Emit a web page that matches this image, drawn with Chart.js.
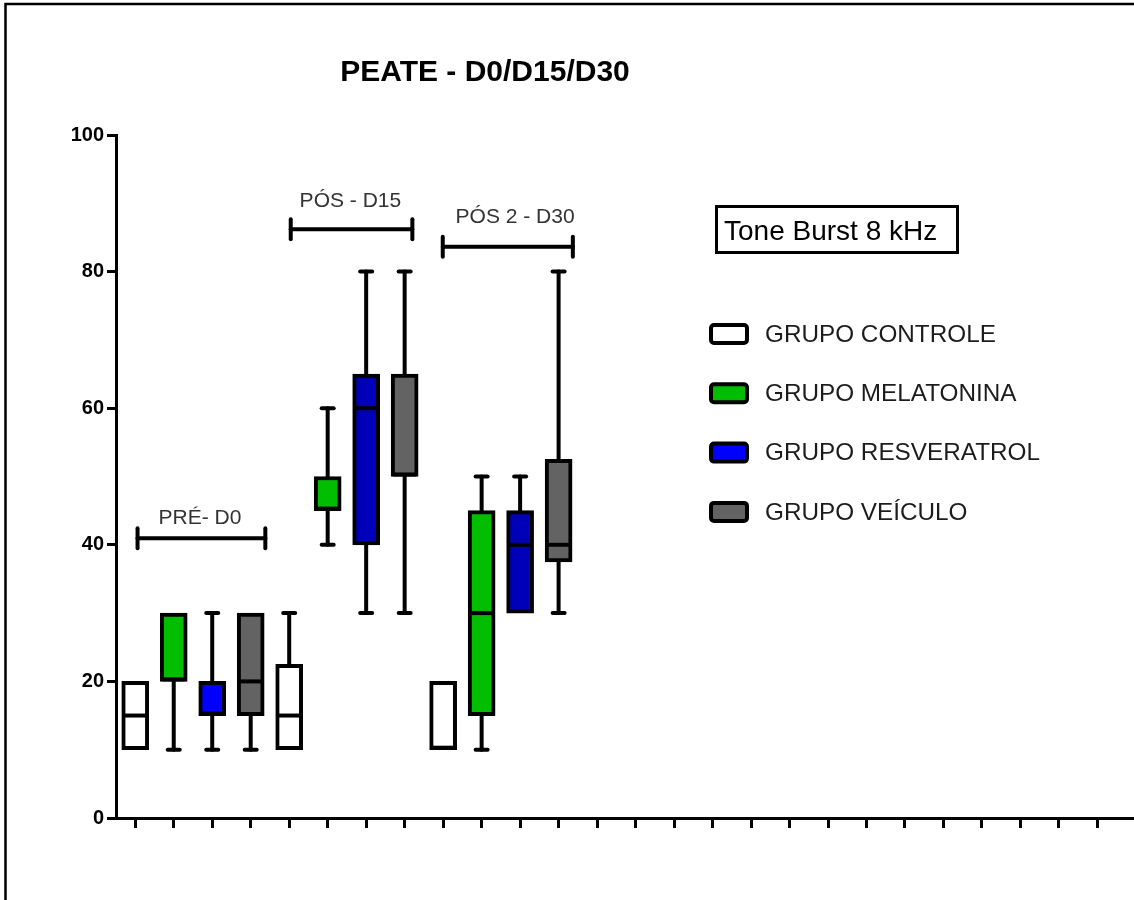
<!DOCTYPE html>
<html lang="pt">
<head>
<meta charset="utf-8">
<title>PEATE - D0/D15/D30</title>
<script src="https://cdn.jsdelivr.net/npm/chart.js@4.4.1/dist/chart.umd.min.js"></script>
<style>
  html, body { margin: 0; padding: 0; background: #fff; }
  #wrap { position: relative; width: 1134px; height: 900px; }
</style>
</head>
<body>
<div id="wrap"><canvas id="peateChart" width="1134" height="900"></canvas></div>
<script>
// Períodos e grupos experimentais
const periodos = ['PRÉ- D0', 'PÓS - D15', 'PÓS 2 - D30'];
const grupos = ['GRUPO CONTROLE', 'GRUPO MELATONINA', 'GRUPO RESVERATROL', 'GRUPO VEÍCULO'];

// [mínimo, Q1, mediana, Q3, máximo] para D0, D15 e D30
const controle    = [[10, 10, 15, 20, 20], [10, 10, 15, 22.5, 30], [10, 10, 10, 20, 20]];
const melatonina  = [[10, 20, 20, 30, 30], [40, 45, 45, 50, 60], [10, 15, 30, 45, 50]];
const resveratrol = [[10, 15, 15, 20, 30], [30, 40, 60, 65, 80], [30, 30, 40, 45, 50]];
const veiculo     = [[10, 15, 20, 30, 30], [30, 50, 50, 65, 80], [30, 37.5, 40, 52.5, 80]];

const yTicks = [0, 20, 40, 60, 80, 100];
const xTicks = Array.from({ length: 26 }, (_, i) => i + 1);

// Cores das caixas (o azul do D0 é mais claro)
const cores = [
  ['#ffffff', '#ffffff', '#ffffff'],
  ['#00bd00', '#00bd00', '#00bd00'],
  ['#0000ff', '#0000b8', '#0000b8'],
  ['#636363', '#636363', '#636363']
];
const coresLegenda = ['#ffffff', '#00bd00', '#0000ff', '#636363'];

// Chaves sobre cada período (coordenadas nos eixos)
const chaves = [
  { x0: 1.06, x1: 4.38, y: 40.95, xTexto: 2.68, yTexto: 43.0 },
  { x0: 5.04, x1: 8.20, y: 86.2, xTexto: 6.59, yTexto: 89.5 },
  { x0: 8.99, x1: 12.37, y: 83.65, xTexto: 10.87, yTexto: 87.1 }
];

const FONTE = '"Liberation Sans", Arial, sans-serif';
const estatisticas = [controle, melatonina, resveratrol, veiculo];

// um dataset por grupo, caixa flutuante de Q1 a Q3
const datasets = grupos.map((nome, g) => ({
  label: nome,
  stats: estatisticas[g],
  data: estatisticas[g].map((s, p) => ({ x: p * 4 + g + 1, y: [s[1], s[3]] })),
  backgroundColor: cores[g],
  borderColor: '#000',
  borderWidth: 4,
  borderSkipped: false,
  barThickness: 27,
  grouped: false
}));

function linha(ctx, x0, y0, x1, y1) {
  ctx.beginPath();
  ctx.moveTo(x0, y0);
  ctx.lineTo(x1, y1);
  ctx.stroke();
}

const boxplotPlugin = {
  id: 'boxplot',
  beforeDraw(chart) {
    const ctx = chart.ctx;
    ctx.save();
    ctx.fillStyle = '#fff';
    ctx.fillRect(0, 0, chart.width, chart.height);
    // moldura esquerda e superior
    ctx.strokeStyle = '#000';
    ctx.lineWidth = 2.5;
    ctx.beginPath();
    ctx.moveTo(5.5, chart.height);
    ctx.lineTo(5.5, 4);
    ctx.lineTo(chart.width, 4);
    ctx.stroke();
    ctx.restore();
  },
  // bigodes por trás das caixas
  beforeDatasetsDraw(chart) {
    const ctx = chart.ctx;
    const y = chart.scales.y;
    ctx.save();
    ctx.strokeStyle = '#000';
    ctx.lineWidth = 4;
    ctx.lineCap = 'round';
    chart.data.datasets.forEach((ds, i) => {
      const meta = chart.getDatasetMeta(i);
      ds.stats.forEach((s, j) => {
        const bx = meta.data[j].x;
        const [mn, q1, , q3, mx] = s;
        if (mx > q3) {
          linha(ctx, bx, y.getPixelForValue(q3), bx, y.getPixelForValue(mx));
          linha(ctx, bx - 6, y.getPixelForValue(mx), bx + 6, y.getPixelForValue(mx));
        }
        if (mn < q1) {
          linha(ctx, bx, y.getPixelForValue(q1), bx, y.getPixelForValue(mn));
          linha(ctx, bx - 6, y.getPixelForValue(mn), bx + 6, y.getPixelForValue(mn));
        }
      });
    });
    ctx.restore();
  },
  // medianas, mantidas dentro da borda da caixa
  afterDatasetsDraw(chart) {
    const ctx = chart.ctx;
    const y = chart.scales.y;
    ctx.save();
    ctx.strokeStyle = '#000';
    ctx.lineWidth = 4;
    chart.data.datasets.forEach((ds, i) => {
      const meta = chart.getDatasetMeta(i);
      ds.stats.forEach((s, j) => {
        const bar = meta.data[j];
        const topo = Math.min(bar.y, bar.base) + 2;
        const fundo = Math.max(bar.y, bar.base) - 2;
        const ym = Math.min(Math.max(y.getPixelForValue(s[2]), topo), fundo);
        linha(ctx, bar.x - bar.width / 2 + 2, ym, bar.x + bar.width / 2 - 2, ym);
      });
    });
    ctx.restore();
  },
  afterDraw(chart) {
    const ctx = chart.ctx;
    const x = chart.scales.x;
    const y = chart.scales.y;
    ctx.save();

    // título
    ctx.fillStyle = '#000';
    ctx.font = 'bold 30px ' + FONTE;
    ctx.textAlign = 'center';
    ctx.textBaseline = 'alphabetic';
    ctx.fillText('PEATE - D0/D15/D30', 485, 81);

    // chaves dos períodos
    ctx.strokeStyle = '#000';
    ctx.lineWidth = 4;
    ctx.lineCap = 'round';
    ctx.font = '21px ' + FONTE;
    ctx.fillStyle = '#333';
    chaves.forEach((c, k) => {
      const x0 = x.getPixelForValue(c.x0);
      const x1 = x.getPixelForValue(c.x1);
      const yc = y.getPixelForValue(c.y);
      linha(ctx, x0, yc, x1, yc);
      linha(ctx, x0, yc - 10, x0, yc + 10);
      linha(ctx, x1, yc - 10, x1, yc + 10);
      ctx.fillText(periodos[k], x.getPixelForValue(c.xTexto), y.getPixelForValue(c.yTexto));
    });

    // caixa "Tone Burst 8 kHz"
    ctx.lineCap = 'butt';
    ctx.lineWidth = 3;
    ctx.strokeRect(716.5, 206.5, 241, 46);
    ctx.fillStyle = '#000';
    ctx.textAlign = 'left';
    ctx.font = '28px ' + FONTE;
    ctx.fillText('Tone Burst 8 kHz', 724, 240);

    // legenda
    ctx.font = '24.3px ' + FONTE;
    ctx.textBaseline = 'middle';
    grupos.forEach((nome, g) => {
      const ly = 334 + g * 59.3;
      ctx.beginPath();
      ctx.roundRect(711, ly - 9, 36, 18, 3);
      ctx.fillStyle = coresLegenda[g];
      ctx.fill();
      ctx.lineWidth = 4;
      ctx.stroke();
      ctx.fillStyle = '#1c1c1c';
      ctx.fillText(nome, 765, ly + 1);
    });
    ctx.restore();
  }
};

new Chart(document.getElementById('peateChart'), {
  type: 'bar',
  data: { datasets },
  options: {
    responsive: false,
    animation: false,
    devicePixelRatio: 1,
    layout: { padding: { top: 135, right: 0, bottom: 0, left: 0 } },
    plugins: { legend: { display: false }, tooltip: { enabled: false } },
    scales: {
      x: {
        type: 'linear',
        min: 0.5,
        max: 26.95,
        offset: false,
        afterBuildTicks: (s) => { s.ticks = xTicks.map(v => ({ value: v })); },
        afterFit: (s) => { s.height = 82; },
        ticks: { display: false },
        grid: { offset: false, drawOnChartArea: false, tickLength: 10, tickWidth: 3, tickColor: '#000' },
        border: { color: '#000', width: 3 }
      },
      y: {
        min: 0,
        max: 100,
        afterBuildTicks: (s) => { s.ticks = yTicks.map(v => ({ value: v })); },
        afterFit: (s) => { s.width = 116; },
        ticks: { color: '#000', padding: 3, font: { family: FONTE, size: 20, weight: 'bold' } },
        grid: { drawOnChartArea: false, tickLength: 9, tickWidth: 3, tickColor: '#000' },
        border: { color: '#000', width: 3 }
      }
    }
  },
  plugins: [boxplotPlugin]
});
</script>
</body>
</html>
